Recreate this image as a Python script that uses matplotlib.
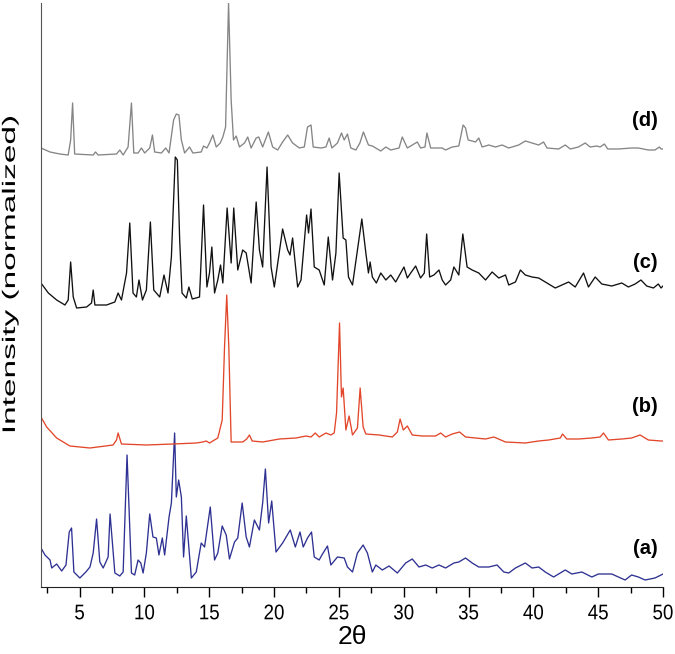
import matplotlib
matplotlib.use("Agg")
import matplotlib.pyplot as plt
import numpy as np
from matplotlib.patheffects import AbstractPathEffect
from matplotlib.transforms import Affine2D

# ---------------- data ----------------
two_theta_a = [2.02, 2.33, 2.72, 2.85, 3.23, 3.62, 3.95, 4.2, 4.38, 4.56, 5.02, 5.48, 5.8, 6.05, 6.31,
               6.56, 6.82, 7.2, 7.35, 7.72, 8.1, 8.36, 8.66, 9.0, 9.25, 9.51, 9.72, 9.9, 10.15, 10.41,
               10.66, 10.92, 11.12, 11.38, 11.56, 11.9, 12.08, 12.33, 12.46, 12.64, 12.85, 13.02, 13.23,
               13.62, 14.0, 14.38, 14.64, 15.08, 15.41, 15.66, 16.0, 16.31, 16.56, 16.95, 17.2, 17.54,
               17.85, 18.1, 18.48, 18.87, 19.12, 19.33, 19.58, 19.82, 20.15, 20.66, 21.25, 21.64, 22.0,
               22.25, 22.58, 22.89, 23.1, 23.48, 23.69, 24.12, 24.38, 24.89, 25.41, 25.66, 26.05, 26.43,
               26.87, 27.2, 27.58, 27.85, 28.35, 28.87, 29.51, 30.15, 30.66, 31.18, 31.69, 32.2, 32.72,
               33.23, 33.87, 34.25, 34.77, 35.28, 35.79, 36.56, 37.2, 37.72, 38.1, 38.62, 39.38, 39.9,
               40.41, 40.92, 41.56, 42.46, 42.97, 43.74, 44.51, 45.02, 46.05, 46.56, 47.08, 47.58, 48.1,
               48.62, 49.38, 49.85, 50.0]
intensity_a = [32, 25, 20, 12, 16, 9, 15, 48, 52, 8, 2, 8, 13, 27, 61,
               18, 12, 23, 66, 7, 4, 8, 125, 7, 5, 20, 17, 7, 27, 66,
               43, 42, 25, 42, 25, 63, 77, 147, 83, 100, 83, 23, 64,
               2, 8, 37, 33, 73, 20, 27, 54, 45, 21, 38, 42, 77,
               43, 33, 60, 50, 77, 111, 57, 79, 28, 37, 50, 33, 48,
               33, 42, 48, 23, 20, 25, 34, 15, 23, 22, 13, 8, 27,
               35, 27, 8, 15, 10, 14, 7, 17, 21, 13, 15, 12, 15,
               12, 17, 18, 22, 17, 13, 13, 15, 8, 7, 12, 17, 12,
               13, 8, 3, 10, 6, 8, 3, 6, 6, 3, 0, 5, 3,
               0, 2, 5, 6]

two_theta_b = [2.02, 2.46, 3.23, 4.25, 5.8, 7.58, 7.85, 7.97, 8.23, 10.15, 12.2, 14.0, 14.5, 14.77,
               15.02, 15.66, 16.0, 16.18, 16.35, 16.51, 16.69, 17.58, 17.89, 18.1, 18.31, 19.12, 20.41,
               21.69, 22.46, 22.85, 23.18, 23.48, 24.0, 24.38, 24.64, 24.82, 25.05, 25.2, 25.33, 25.54,
               25.79, 26.05, 26.43, 26.64, 26.87, 27.08, 28.1, 29.12, 29.51, 29.72, 29.97, 30.28, 30.66,
               31.43, 32.46, 32.85, 33.23, 33.74, 34.31, 34.77, 35.54, 36.31, 36.95, 37.85, 39.38,
               40.41, 41.18, 42.08, 42.25, 42.58, 43.48, 44.51, 45.15, 45.41, 45.79, 46.82, 47.58,
               48.23, 48.87, 49.85, 50.0]
intensity_b = [31, 21, 10, 2, 0, 3, 8, 15, 4, 3, 4, 5, 6, 7,
               5, 10, 28, 101, 153, 101, 6, 6, 9, 13, 7, 6, 9,
               10, 12, 11, 15, 11, 15, 13, 15, 35, 125, 51, 60, 18,
               32, 13, 20, 60, 21, 14, 13, 11, 16, 29, 18, 22, 13,
               12, 12, 15, 11, 14, 16, 11, 10, 9, 11, 6, 5,
               7, 8, 10, 14, 9, 9, 10, 11, 15, 8, 9, 10,
               13, 8, 7, 7]

two_theta_c = [2.02, 2.59, 3.23, 3.87, 4.12, 4.31, 4.51, 4.77, 5.54, 5.92, 6.05, 6.18, 7.08, 7.72,
               7.97, 8.23, 8.62, 8.87, 9.12, 9.38, 9.58, 9.85, 10.15, 10.46, 10.72, 11.18, 11.51, 11.82,
               12.08, 12.38, 12.54, 12.72, 12.9, 13.23, 13.43, 13.69, 14.25, 14.56, 14.82, 15.02, 15.2,
               15.41, 15.66, 15.87, 16.05, 16.38, 16.69, 16.89, 17.2, 17.58, 17.85, 18.23, 18.62, 18.87,
               19.12, 19.46, 19.77, 20.02, 20.66, 21.05, 21.23, 21.43, 21.82, 22.08, 22.51, 22.66, 22.85,
               23.1, 23.48, 23.87, 24.18, 24.51, 24.77, 25.02, 25.33, 25.54, 25.74, 26.05, 26.43, 26.77,
               27.08, 27.28, 27.41, 27.58, 27.89, 28.23, 28.62, 29.0, 29.38, 30.02, 30.28, 30.54, 30.92,
               31.3, 31.59, 31.77, 32.0, 32.33, 32.72, 32.97, 33.23, 33.62, 33.87, 34.25, 34.56, 34.89,
               35.28, 35.79, 36.31, 36.82, 37.33, 37.85, 38.1, 38.62, 39.0, 39.38, 39.9, 40.41, 41.05,
               41.69, 42.2, 42.72, 43.23, 43.87, 44.25, 44.77, 45.28, 46.05, 46.82, 47.33, 47.85, 48.3,
               48.74, 49.26, 49.64, 49.85, 50.0]
intensity_c = [27, 17, 10, 5, 10, 48, 13, 2, 3, 7, 20, 5, 5, 8,
               17, 10, 37, 87, 17, 13, 30, 10, 20, 88, 20, 13, 35, 17,
               53, 153, 150, 70, 17, 12, 23, 11, 13, 105, 23, 37, 63,
               17, 30, 45, 27, 102, 47, 102, 40, 60, 57, 27, 108, 60,
               43, 143, 43, 23, 81, 60, 55, 72, 23, 30, 95, 77, 101,
               43, 40, 25, 73, 30, 57, 137, 72, 70, 33, 25, 60, 91,
               57, 37, 48, 33, 27, 37, 30, 35, 28, 43, 32, 37, 44,
               32, 37, 76, 33, 35, 40, 30, 25, 30, 43, 35, 76, 43,
               40, 37, 30, 38, 32, 35, 25, 28, 40, 35, 33, 32, 27,
               22, 25, 28, 23, 37, 23, 33, 26, 24, 27, 23, 26, 30,
               24, 22, 26, 22, 24]

two_theta_d = [2.02, 2.72, 3.48, 4.12, 4.31, 4.46, 4.62, 6.05, 6.23, 6.43, 7.85, 8.1, 8.36, 8.74,
               9.0, 9.18, 9.51, 9.77, 10.02, 10.41, 10.62, 10.79, 11.31, 11.64, 11.9, 12.25, 12.46,
               12.66, 12.85, 13.1, 13.48, 13.74, 14.38, 14.56, 14.82, 15.02, 15.28, 15.54, 15.85, 16.05,
               16.26, 16.49, 16.69, 16.87, 17.08, 17.33, 17.72, 17.97, 18.23, 18.62, 18.82, 19.12,
               19.56, 19.89, 20.28, 20.66, 21.05, 21.43, 21.95, 22.33, 22.58, 22.85, 23.02, 23.62,
               24.0, 24.25, 24.46, 24.89, 25.2, 25.41, 25.66, 25.92, 26.31, 26.62, 26.89, 27.28, 27.58,
               28.23, 28.62, 29.0, 29.64, 29.89, 30.28, 30.66, 31.05, 31.3, 31.64, 31.79, 32.08, 32.97,
               33.23, 33.74, 34.25, 34.58, 34.77, 34.97, 35.28, 35.54, 35.79, 36.05, 36.56, 37.08,
               37.59, 38.1, 38.87, 39.38, 39.9, 40.41, 40.79, 41.05, 41.95, 42.46, 42.85, 43.48, 44.0,
               44.38, 44.89, 45.15, 45.48, 45.74, 46.56, 47.58, 48.1, 48.87, 49.38, 49.72, 49.85, 50.0]
intensity_d = [8, 4, 2, 1, 16, 53, 2, 1, 4, 1, 2, 6, 1, 9,
               53, 3, 3, 8, 3, 8, 21, 4, 3, 8, 3, 36, 42,
               41, 16, 3, 9, 3, 4, 10, 8, 13, 21, 9, 13, 19,
               29, 153, 56, 16, 20, 9, 13, 19, 8, 18, 19, 9,
               24, 9, 6, 14, 21, 13, 8, 9, 29, 31, 9, 8,
               9, 18, 8, 13, 23, 16, 22, 8, 6, 13, 24, 11, 10,
               5, 9, 6, 8, 19, 8, 11, 14, 8, 9, 23, 8, 8,
               6, 9, 10, 31, 28, 16, 15, 14, 18, 9, 11, 9,
               11, 8, 11, 15, 13, 11, 14, 8, 7, 11, 7, 9, 13,
               9, 10, 9, 12, 7, 7, 8, 8, 6, 6, 9, 7, 7]

sample_labels = ["(a)", "(b)", "(c)", "(d)"]
x_ticks = [5, 10, 15, 20, 25, 30, 35, 40, 45, 50]

# ---------------- styling / layout ----------------
offsets = [6.7, 138.7, 276.7, 430.7]          # vertical stacking offsets
label_heights = [38.7, 179.7, 324.7, 466.7]   # where the (a)-(d) tags sit
colors = ["#2e3192", "#e2472b", "#111111", "#858585"]


class Stretch(AbstractPathEffect):
    """Stretch rendered text about its own centre."""
    def __init__(self, sx=1.0, sy=1.0):
        super().__init__()
        self.sx, self.sy = sx, sy

    def draw_path(self, renderer, gc, tpath, affine, rgbFace=None):
        v = affine.transform(tpath.vertices)
        if len(v):
            cx = 0.5 * (v[:, 0].min() + v[:, 0].max())
            cy = 0.5 * (v[:, 1].min() + v[:, 1].max())
            affine = affine + Affine2D().translate(-cx, -cy).scale(self.sx, self.sy).translate(cx, cy)
        renderer.draw_path(gc, tpath, affine, rgbFace)


plt.rcParams['font.family'] = ['Liberation Sans', 'DejaVu Sans']

fig = plt.figure(figsize=(6.75, 6.54), dpi=100)
ax = fig.add_axes([40.7 / 675, 67.3 / 654, 622.3 / 675, 583.7 / 654])

series = [(two_theta_a, intensity_a), (two_theta_b, intensity_b),
          (two_theta_c, intensity_c), (two_theta_d, intensity_d)]
for (xs, ys), off, col in zip(series, offsets, colors):
    ax.plot(xs, np.asarray(ys, dtype=float) + off, color=col, lw=0.95, clip_on=True)

for lab, h in zip(sample_labels, label_heights):
    ax.text(49.6, h, lab, ha='right', va='center', fontsize=14.5, fontweight='bold', color='black')

ax.set_xlim(2, 50)
ax.set_ylim(0, 583.7)
ax.set_xticks(x_ticks)
ax.set_xticks(np.arange(2.5, 50.01, 2.5), minor=True)
ax.set_yticks([])
ax.tick_params(axis='x', which='major', direction='out', length=7, width=1, labelsize=13.5, pad=6.5)
ax.tick_params(axis='x', which='minor', direction='out', length=4.3, width=1)
for lbl in ax.get_xticklabels():
    lbl.set_path_effects([Stretch(1.0, 1.13)])
for s in ['top', 'right']:
    ax.spines[s].set_visible(False)
ax.spines['left'].set_color('#555555')
ax.spines['bottom'].set_color('#222222')

ax.set_xlabel("2θ", fontsize=19, labelpad=2)
yl = ax.set_ylabel("Intensity (normalized)", fontsize=13)
yl.set_path_effects([Stretch(1.0, 1.85)])
ax.yaxis.set_label_coords(-0.035, 0.534)

fig.savefig("out.png", dpi=100)
